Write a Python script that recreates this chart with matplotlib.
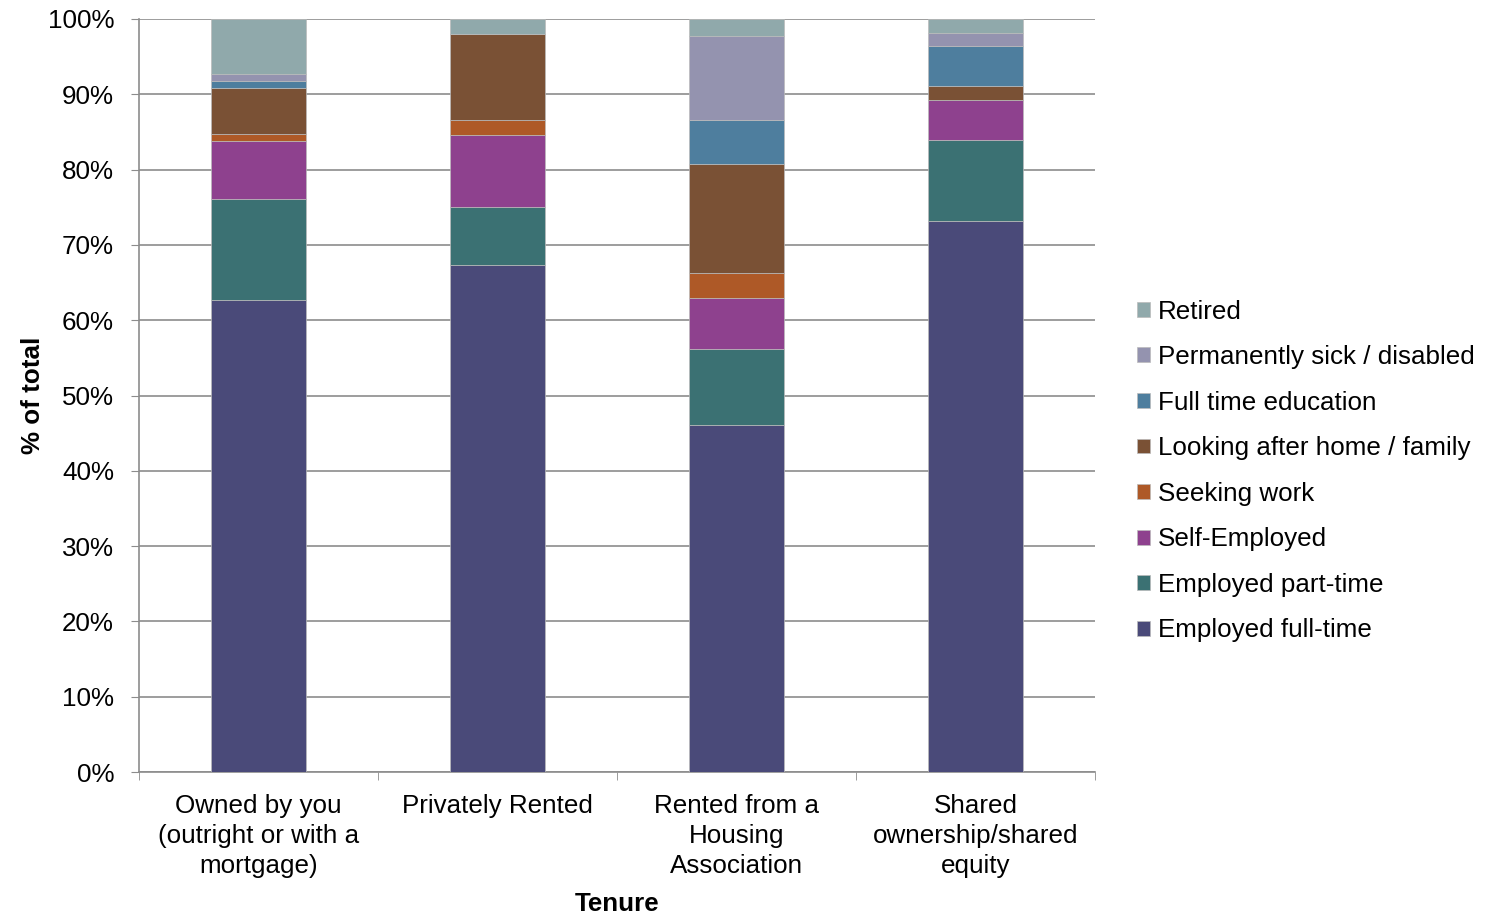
import numpy as np
import matplotlib.pyplot as plt
from matplotlib.ticker import PercentFormatter

plt.rcParams['font.family'] = ['Liberation Sans', 'DejaVu Sans']

tenures = ['Owned by you\n(outright or with a\nmortgage)', 'Privately Rented',
           'Rented from a\nHousing\nAssociation', 'Shared\nownership/shared\nequity']

full_time = [62.7, 67.3, 46.05, 73.2]
part_time = [13.4, 7.7, 10.15, 10.7]
self_employed = [7.65, 9.55, 6.75, 5.35]
seeking_work = [0.95, 2.05, 3.35, 0.0]
looking_after = [6.1, 11.45, 14.5, 1.8]
full_time_edu = [0.9, 0.0, 5.75, 5.35]
perm_sick = [0.95, 0.0, 11.15, 1.8]
retired = [7.35, 1.95, 2.3, 1.8]

series = [
    ('Employed full-time', full_time, '#4a4a79'),
    ('Employed part-time', part_time, '#3b7173'),
    ('Self-Employed', self_employed, '#8e418e'),
    ('Seeking work', seeking_work, '#ae5927'),
    ('Looking after home / family', looking_after, '#7a5135'),
    ('Full time education', full_time_edu, '#4e7e9e'),
    ('Permanently sick / disabled', perm_sick, '#9493af'),
    ('Retired', retired, '#90a9ab'),
]

fs = 18.7

fig = plt.figure(figsize=(14.89, 9.15), dpi=100)
ax = fig.add_axes([139/1489, 1 - 772/915, (1095 - 139)/1489, (772 - 19)/915])

x = np.arange(len(tenures))
bottom = np.zeros(len(tenures))
handles = []
for name, vals, col in series:
    vals = np.array(vals)
    b = ax.bar(x, vals, 0.4, bottom=bottom, color=col, label=name,
               edgecolor='#bbbbbb', linewidth=0.5, zorder=3)
    handles.append(b)
    bottom += vals

ax.set_xlim(-0.5, len(tenures) - 0.5)
ax.set_ylim(0, 100)
ax.set_yticks(np.arange(0, 101, 10))
ax.yaxis.set_major_formatter(PercentFormatter(decimals=0))
ax.grid(axis='y', color='#8c8c8c', linewidth=1.2, zorder=0)

ax.set_xticks(x)
ax.set_xticklabels(tenures, fontsize=fs, linespacing=1.3)
ax.set_xticks(np.arange(-0.5, len(tenures)), minor=True)
ax.tick_params(axis='x', which='major', length=0, pad=16)
ax.tick_params(axis='x', which='minor', length=6, color='#8c8c8c')
ax.tick_params(axis='y', labelsize=fs, length=6, color='#8c8c8c', pad=12)

for side in ['top', 'right']:
    ax.spines[side].set_visible(False)
for side in ['left', 'bottom']:
    ax.spines[side].set_color('#8c8c8c')
    ax.spines[side].set_linewidth(1.2)

ax.set_xlabel('Tenure', fontsize=fs, fontweight='bold', labelpad=10)
ax.set_ylabel('% of total', fontsize=fs, fontweight='bold', labelpad=2)

fig.legend(handles[::-1], [s[0] for s in series][::-1],
           loc='center left', bbox_to_anchor=(1127/1489, 1 - 471/915),
           frameon=False, fontsize=fs, handlelength=0.5, handleheight=0.5,
           handletextpad=0.3, labelspacing=0.83, borderaxespad=0)

fig.savefig('out.png', dpi=100)
